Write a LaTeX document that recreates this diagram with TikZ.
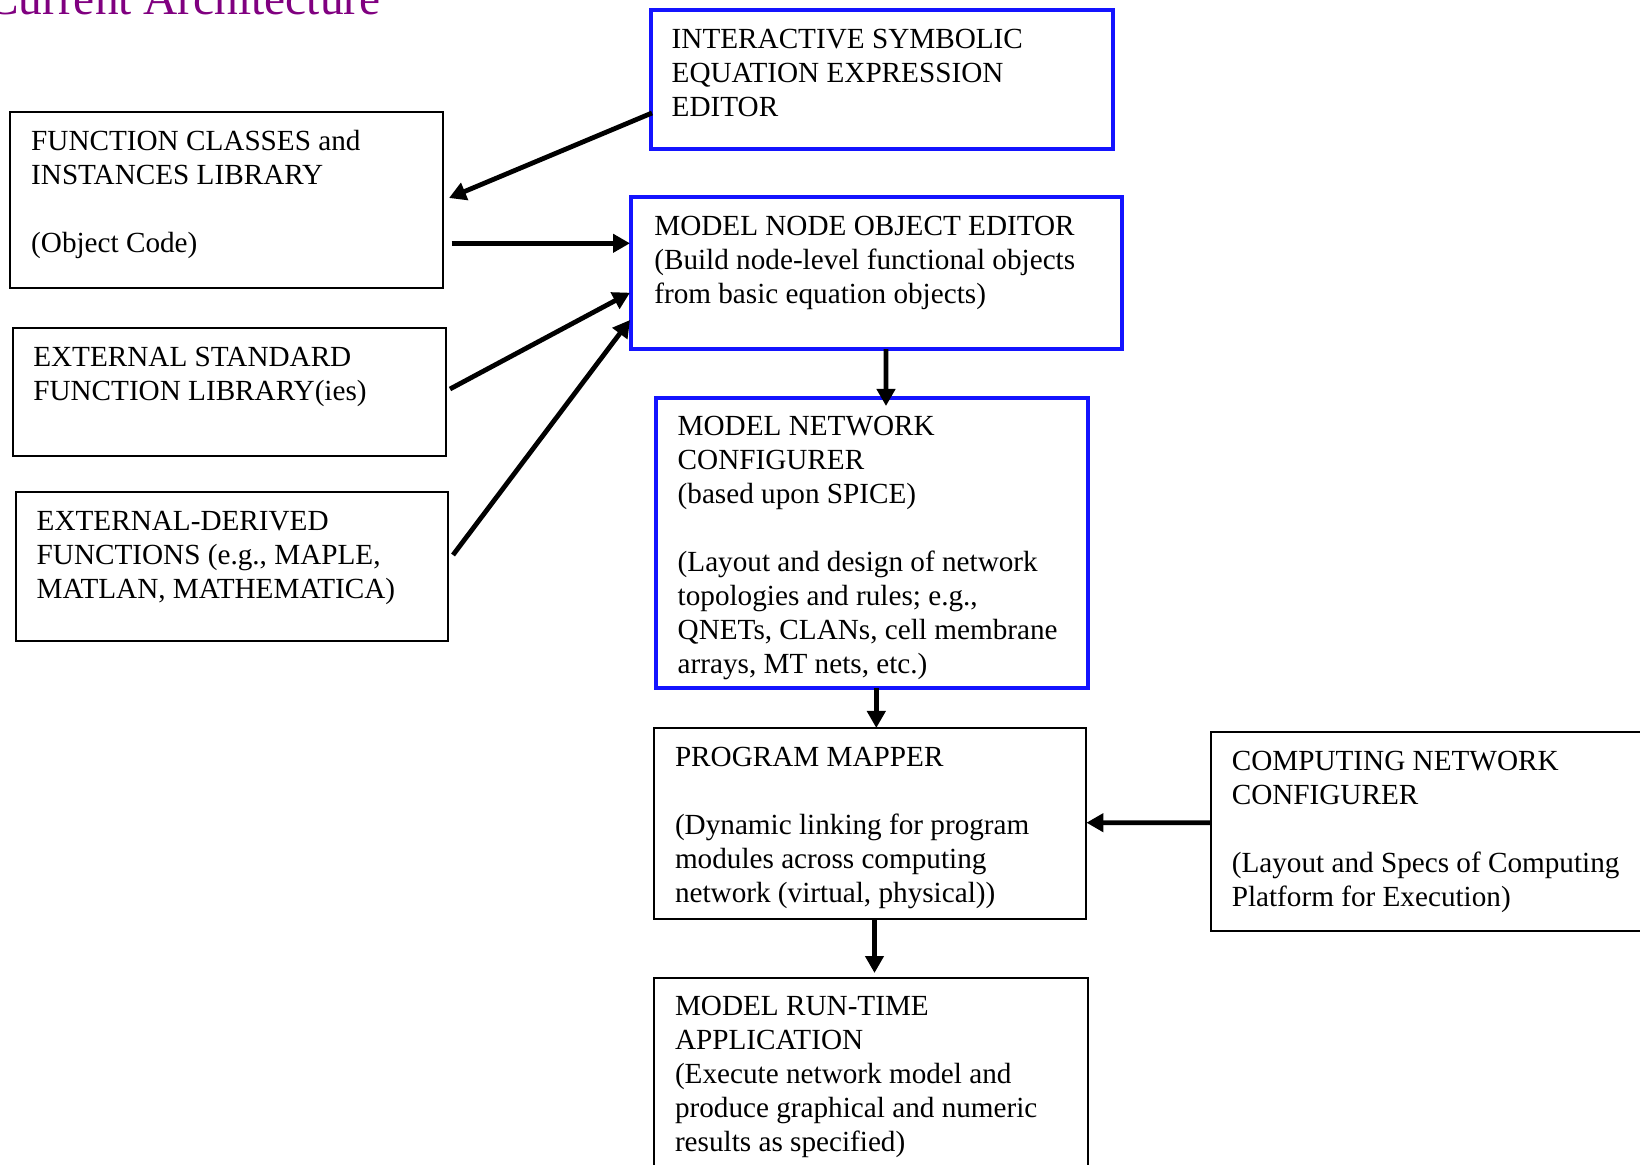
\documentclass[tikz,border=0pt]{standalone}
\usepackage{fontspec}
\setmainfont{Liberation Serif}
\usetikzlibrary{arrows.meta,calc}
\definecolor{titlepurple}{RGB}{128,0,128}
\definecolor{boxblue}{RGB}{20,20,255}
\tikzset{
  blackbox/.style={draw=black,line width=1pt,inner sep=0pt,outer sep=0pt},
  bluebox/.style={draw=boxblue,line width=2pt,inner sep=0pt,outer sep=0pt},
  txt/.style={anchor=north west,inner sep=0pt,outer sep=0pt,align=left,
    font=\fontsize{14.6pt}{17pt}\selectfont},
  conn/.style={line width=2.4pt,-{Triangle[length=8.5pt,width=9pt]}}
}
\begin{document}
\begin{tikzpicture}[x=0.5pt,y=-0.5pt]
\useasboundingbox (0,0) rectangle (1640,1165);
% title
\node[anchor=base east,inner sep=0pt,text=titlepurple,
  font=\fontsize{23.7pt}{28pt}\selectfont] (title) at (381,15) {Current Architecture};
% boxes
\node[bluebox,minimum width=231pt,minimum height=69.35pt] (iseee) at (881.7,79.35) {};
\node[blackbox,minimum width=216.5pt,minimum height=88pt] (fcil) at (226.5,200.3) {};
\node[bluebox,minimum width=245.6pt,minimum height=75.85pt] (mnoe) at (876.6,273.2) {};
\node[blackbox,minimum width=216.2pt,minimum height=63.85pt] (esfl) at (229.5,392.2) {};
\node[blackbox,minimum width=216.15pt,minimum height=74.5pt] (edf) at (231.85,566.2) {};
\node[bluebox,minimum width=216pt,minimum height=145pt] (mnc) at (871.7,543.3) {};
\node[blackbox,minimum width=216.2pt,minimum height=95.8pt] (pm) at (870.2,823.5) {};
\node[blackbox,minimum width=244.6pt,minimum height=99.5pt] (cnc) at (1455.4,831.2) {};
\node[blackbox,minimum width=217pt,minimum height=111.15pt] (mrta) at (871,1088.85) {};
% texts
\node[txt] (iseeetxt) at (671.7,24.7) {\strut INTERACTIVE SYMBOLIC\\EQUATION EXPRESSION\\EDITOR};
\node[txt] (fciltxt) at (31.2,127.2) {\strut FUNCTION CLASSES and\\INSTANCES LIBRARY\\[17pt](Object Code)};
\node[txt] (mnoetxt) at (654.3,212.2) {\strut MODEL NODE OBJECT EDITOR\\(Build node-level functional objects\\from basic equation objects)};
\node[txt] (esfltxt) at (33.3,343.2) {\strut EXTERNAL STANDARD\\FUNCTION LIBRARY(ies)};
\node[txt] (edftxt) at (36.7,506.5) {\strut EXTERNAL-DERIVED\\FUNCTIONS (e.g., MAPLE,\\MATLAN, MATHEMATICA)};
\node[txt] (mnctxt) at (677.7,412.2) {\strut MODEL NETWORK\\CONFIGURER\\(based upon SPICE)\\[17pt](Layout and design of network\\topologies and rules; e.g.,\\QNETs, CLANs, cell membrane\\arrays, MT nets, etc.)};
\node[txt] (pmtxt) at (675,742.2) {\strut PROGRAM MAPPER\\[17pt](Dynamic linking for program\\modules across computing\\network (virtual, physical))};
\node[txt] (cnctxt) at (1231.8,746.5) {\strut COMPUTING NETWORK\\CONFIGURER\\[17pt](Layout and Specs of Computing\\Platform for Execution)};
\node[txt] (mrtatxt) at (675,991.5) {\strut MODEL RUN-TIME\\APPLICATION\\(Execute network model and\\produce graphical and numeric\\results as specified)};
% connectors
\draw[conn] ($(iseee.south west)+(1.3,-35.7)$) -- ($(fcil.east)+(6,-2.3)$);
\draw[conn] ($(fcil.east)+(8.7,43)$) -- ($(mnoe.west)+(-1,-29.9)$);
\draw[conn] ($(esfl.east)+(4.3,-3.2)$) -- ($(mnoe.west)+(-1,19.5)$);
\draw[conn] ($(edf.east)+(5,-11.2)$) -- ($(mnoe.west)+(-1,46.8)$);
\draw[conn] ($(mnoe.south)+(9.4,0)$) -- ($(mnc.north)+(14.3,7.7)$);
\draw[conn] ($(mnc.south)+(4.6,0)$) -- ($(pm.north)+(6.1,0.3)$);
\draw[conn] ($(pm.south)+(4.3,0)$) -- ($(mrta.north)+(3.5,-4.7)$);
\draw[conn] ($(cnc.west)+(0,-8.5)$) -- ($(pm.east)+(0,-0.8)$);
\end{tikzpicture}
\end{document}
